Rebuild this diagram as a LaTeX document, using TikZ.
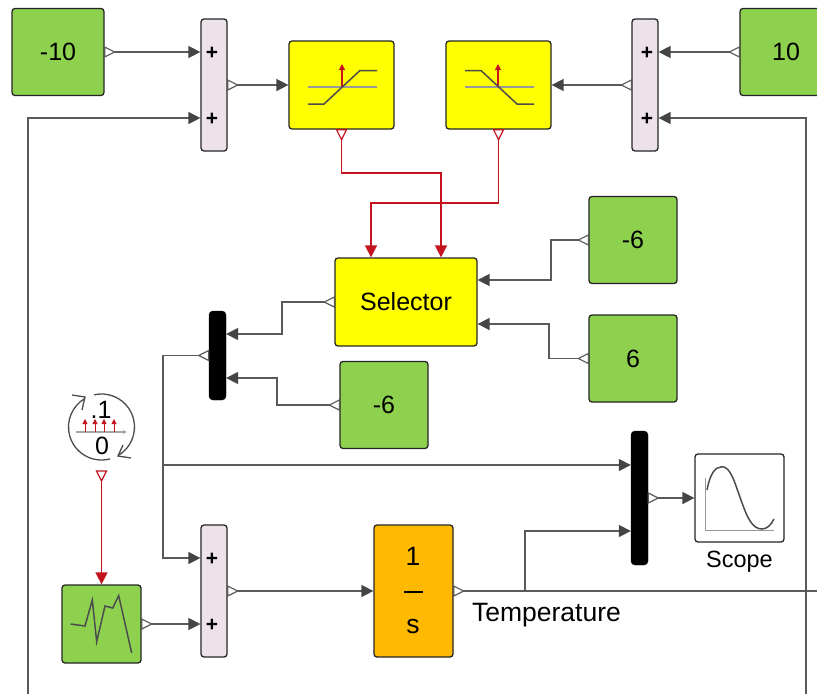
\documentclass[tikz,border=0pt]{standalone}
\usepackage{fontspec}
\setmainfont{Liberation Sans}
\usetikzlibrary{arrows.meta,calc}
\definecolor{gblock}{HTML}{8DD14F}
\definecolor{oblock}{HTML}{FFB900}
\definecolor{sblock}{HTML}{EEE2EA}
\definecolor{yblock}{HTML}{FFFF00}
\definecolor{wirec}{HTML}{5A5A5A}
\definecolor{tipc}{HTML}{444444}
\definecolor{redc}{HTML}{C4141F}
\tikzset{
  blockbase/.style={draw=black!85,line width=1.3pt,rounded corners=3pt,inner sep=0pt,font=\fontsize{25}{28}\selectfont},
  gbox/.style={blockbase,fill=gblock,minimum width=#1pt,minimum height=87pt},
  ybox/.style={blockbase,fill=yblock,minimum width=105pt,minimum height=88pt},
  sumbox/.style={blockbase,fill=sblock,minimum width=26pt,minimum height=132pt},
  muxbox/.style={draw=black,fill=black,rounded corners=4pt,inner sep=0pt,minimum width=17pt},
  wire/.style={draw=wirec,line width=1.6pt,-{Triangle[length=12pt,width=12pt,color=tipc]}},
  plainwire/.style={draw=wirec,line width=1.6pt},
  redwire/.style={draw=redc,line width=1.6pt,-{Triangle[length=12pt,width=12pt,color=redc]}},
  plus/.style={font=\bfseries\fontsize{21}{24}\selectfont,inner sep=0pt},
  icon/.style={line width=1.5pt,draw=black!70},
  grayline/.style={line width=1.5pt,draw=black!40},
  txt/.style={font=\fontsize{26.5}{28}\selectfont,inner sep=0pt},
}
\newcommand{\oport}[3][wirec]{\draw[#1,fill=white,line width=1.2pt,shift={(#2)},rotate=#3] (0pt,-5pt) -- (10pt,0pt) -- (0pt,5pt) -- cycle;}
\begin{document}
\begin{tikzpicture}[x=1pt,y=-1pt]
\path[use as bounding box,fill=white] (0,0) rectangle (817,694);
\clip (0,0) rectangle (817,694);

% blocks
\node[gbox=92] (cm10) at (58,52) {-10};
\node[sumbox] (sum1) at (214,85) {};
\node[ybox] (sat1) at (341.5,85) {};
\node[ybox] (sat2) at (498.5,85) {};
\node[sumbox] (sum2) at (645,85) {};
\node[gbox=92] (c10) at (786,52) {10};
\node[ybox,minimum width=142pt] (sel) at (406,302) {Selector};
\node[gbox=88] (cm6a) at (633,240) {-6};
\node[gbox=88] (c6) at (633,358.5) {6};
\node[muxbox,minimum height=89pt] (mux1) at (217.5,355.5) {};
\node[gbox=88] (cm6b) at (384,405) {-6};
\node[muxbox,minimum height=134pt] (mux2) at (639.5,498) {};
\node[blockbase,fill=white,minimum width=89pt,minimum height=88pt] (scope) at (739.5,498) {};
\node[sumbox] (sum3) at (214,591) {};
\node[blockbase,fill=oblock,minimum width=79pt,minimum height=132pt] (int) at (413.5,591) {};
\node[blockbase,fill=gblock,minimum width=79pt,minimum height=78pt] (rnd) at (101.5,624) {};
\coordinate (clk) at (101.5,427);
\coordinate (clkout) at (101.5,471);
\coordinate (fbedge) at (817,591);
\coordinate (jt) at (525,591);
\coordinate (jm) at (163,465);

% wires
\draw[wire] (cm10.east) -- (cm10.east -| sum1.west);
\draw[wire] (sum1.east) -- (sat1.west);
\draw[wire] (c10.west) -- (c10.west -| sum2.east);
\draw[wire] (sum2.west) -- (sat2.east);
\draw[wire] (cm6a.west) -| (551,280) -- (sel.east |- 0,280);
\draw[wire] (c6.west) -| (549,324) -- (sel.east |- 0,324);
\draw[wire] (sel.west) -| (282,334) -- (mux1.east |- 0,334);
\draw[wire] (cm6b.west) -| (277,378) -- (mux1.east |- 0,378);
\draw[wire] (mux1.west) -| (163,558) -- (sum3.west |- 0,558);
\draw[wire] (jm) -- (mux2.west |- jm);
\draw[wire] (mux2.east) -- (scope.west);
\draw[wire] (rnd.east) -- (sum3.west |- rnd.east);
\draw[wire] (sum3.east) -- (int.west);
\draw[plainwire] (int.east) -- (fbedge);
\draw[wire] (jt) |- (mux2.west |- 0,531);
\draw[wire] (806,694) -- (806,118) -- (sum2.east |- 0,118);
\draw[wire] (28,694) -- (28,118) -- (sum1.west |- 0,118);
\draw[redwire] (sat1.south) |- (441,173) -- (sel.north -| 441,0);
\draw[redwire] (sat2.south) |- (371,203) -- (sel.north -| 371,0);
\draw[redwire] (clkout) -- (rnd.north);

% output ports
\oport{cm10.east}{0}
\oport{sum1.east}{0}
\oport{c10.west}{180}
\oport{sum2.west}{180}
\oport{cm6a.west}{180}
\oport{c6.west}{180}
\oport{sel.west}{180}
\oport{cm6b.west}{180}
\oport{mux1.west}{180}
\oport{mux2.east}{0}
\oport{rnd.east}{0}
\oport{sum3.east}{0}
\oport{int.east}{0}
\oport[redc]{sat1.south}{-90}
\oport[redc]{sat2.south}{-90}
\oport[redc]{clkout}{-90}

% plus signs
\node[plus] (p1) at (212,53) {+};
\node[plus] (p2) at (212,119) {+};
\node[plus] (p3) at (647,53) {+};
\node[plus] (p4) at (647,119) {+};
\node[plus] (p5) at (212,559) {+};
\node[plus] (p6) at (212,625) {+};

% saturation icons
\draw[grayline] (308,87) -- (377,87);
\draw[redc,line width=1.2pt,-{Triangle[length=6pt,width=6pt]}] (342,87) -- (342,64);
\draw[icon] (308,104) -- (324,104) -- (360,70.5) -- (377,70.5);
\draw[grayline] (465,87) -- (534,87);
\draw[redc,line width=1.2pt,-{Triangle[length=6pt,width=6pt]}] (498,87) -- (498,64);
\draw[icon] (465,70.5) -- (481,70.5) -- (517,104) -- (534,104);

% integrator text
\node[txt] (one) at (413,556) {1};
\draw[black,line width=2pt] (404,592) -- (423,592);
\node[txt] (ess) at (413,627) {s};

% random icon
\draw[icon] (70.7,624) -- (85,626) -- (92.3,600) -- (96.7,641.7) -- (105,606) -- (112.7,608) -- (118.7,595.7) -- (131.7,653);

% scope icon
\draw[grayline] (705.7,478) -- (705.7,530.7) -- (774,530.7);
\draw[icon] (707,490) .. controls (710,474) and (715,466.7) .. (722,466.7)
  .. controls (731,466.7) and (735,484) .. (741,500)
  .. controls (747,517) and (752,529) .. (762,529)
  .. controls (767,529) and (771,525) .. (774,519);
\node[font=\fontsize{23.5}{26}\selectfont,inner sep=0pt] (scopelabel) at (739.5,562) {Scope};
\node[txt] (temp) at (546.5,615) {Temperature};

% clock icon
\draw[icon,line width=1.3pt] ($(clk)+(-75:33pt)$) arc[start angle=-75,end angle=-240,radius=33pt];
\draw[icon,line width=1.3pt] ($(clk)+(103:33pt)$) arc[start angle=103,end angle=-60,radius=33pt];
\draw[icon,line width=1.3pt] (72,395) -- (85,397) -- (82,410);
\draw[icon,line width=1.3pt] (131,458) -- (118,456) -- (123,445);
\draw[draw=black!35,line width=1.1pt,-{Triangle[length=4pt,width=4pt]}] (76,432) -- (127,432);
\foreach \sx in {85,95,104,114}
  \draw[redc,line width=.9pt,-{Triangle[length=5pt,width=5pt]}] (\sx,432) -- (\sx,419);
\node[font=\fontsize{25}{28}\selectfont,inner sep=0pt] (clk1) at (101,410) {.1};
\node[font=\fontsize{25}{28}\selectfont,inner sep=0pt] (clk0) at (102,446) {0};
\end{tikzpicture}
\end{document}
